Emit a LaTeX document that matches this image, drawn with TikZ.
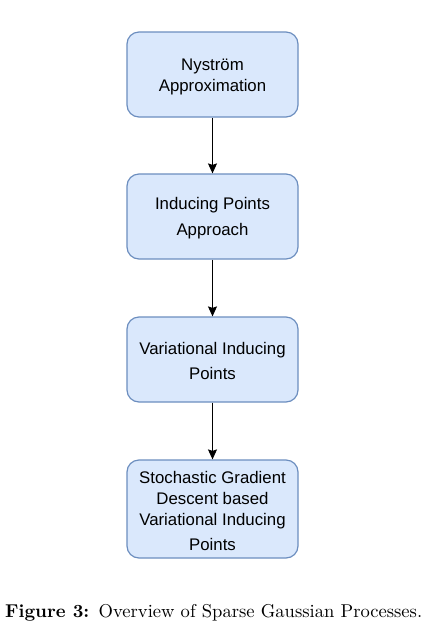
\documentclass[tikz,border=0pt]{standalone}
\usepackage{fontspec}
\setmainfont{Latin Modern Roman}
\newfontfamily\boxfont{Liberation Sans}
\usetikzlibrary{arrows.meta}
\definecolor{boxfill}{HTML}{DAE8FC}
\definecolor{boxline}{HTML}{6C8EBF}
\tikzset{
  flowbox/.style={draw=boxline, fill=boxfill, line width=1.2pt, rounded corners=12pt,
    minimum width=171pt, minimum height=85pt},
  flowtext/.style={align=center, inner sep=0pt,
    font=\boxfont\fontsize{16.8}{21}\selectfont},
  flowarrow/.style={draw=black, line width=1pt, -{Stealth[length=10pt,width=9pt,inset=1.5pt]}}
}
\begin{document}
\begin{tikzpicture}[x=1pt,y=-1pt]
\useasboundingbox (0,0) rectangle (433,633);
\node[flowbox] (a) at (212.5,74.5) {};
\node[flowbox] (b) at (212.5,216.5) {};
\node[flowbox] (c) at (212.5,359.5) {};
\node[flowbox, minimum height=98pt] (d) at (212.5,509) {};
\node[flowtext] (ta) at (212.5,77) {Nyström\\Approximation};
\node[flowtext] (tb) at (212.5,218) {Inducing Points\\[5pt]Approach};
\node[flowtext] (tc) at (212.5,361) {Variational Inducing\\[4pt]Points};
\node[flowtext] (td) at (212.5,510.5) {Stochastic Gradient\\Descent based\\Variational Inducing\\[4pt]Points};
\draw[flowarrow] (a.south) -- (b.north);
\draw[flowarrow] (b.south) -- (c.north);
\draw[flowarrow] (c.south) -- (d.north);
\node[anchor=west, inner sep=0pt] (cap) at (5,613) {\resizebox{417pt}{!}{\textbf{Figure 3:}\enspace Overview of Sparse Gaussian Processes.}};
\end{tikzpicture}
\end{document}
